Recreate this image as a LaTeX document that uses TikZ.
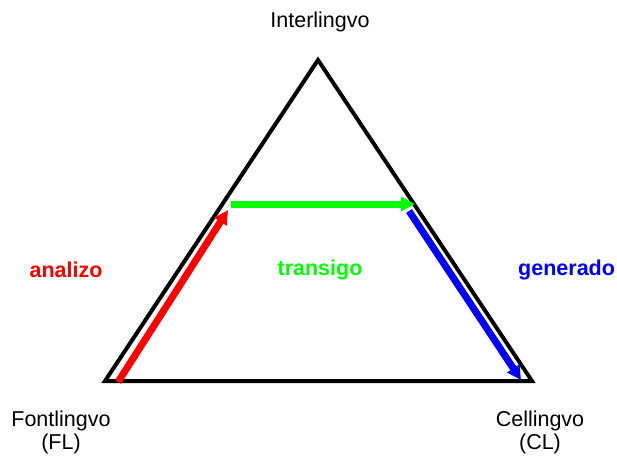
\documentclass[tikz,border=0pt]{standalone}
\usepackage{fontspec}
\setmainfont{Liberation Sans}
\usetikzlibrary{arrows.meta}
\tikzset{
  lbl/.style={font=\fontsize{21.5}{23}\selectfont, align=center, inner sep=0pt},
  act/.style={font=\fontsize{21.5}{23}\selectfont\bfseries, inner sep=0pt},
  side/.style={line width=4pt, line join=miter},
  flow/.style={line width=7pt, -{Triangle[length=14pt,width=14pt]}, shorten >=0pt},
}
\definecolor{fred}{RGB}{255,0,0}
\definecolor{fgreen}{RGB}{0,255,0}
\definecolor{fblue}{RGB}{0,0,255}
\begin{document}
\begin{tikzpicture}[x=1pt,y=-1pt]
\useasboundingbox (0,0) rectangle (617,455);
\coordinate (top) at (318,60);
\coordinate (bl) at (105,381);
\coordinate (br) at (532,381);
\draw[side] (top) -- (bl) -- (br) -- cycle;
\node[lbl] (inter) at (320,22) {Interlingvo};
\node[lbl] (font) at (61,432) {Fontlingvo\\(FL)};
\node[lbl] (cel) at (540,432) {Cellingvo\\(CL)};
\node[act, text=fred] (ana) at (66,270) {analizo};
\node[act, text=fgreen] (tra) at (320,270) {transigo};
\node[act, text=fblue, anchor=west] (gen) at (518,270) {generado};
\coordinate (r1) at (118,382);
\coordinate (r2) at (228,210);
\coordinate (g1) at (231,204);
\coordinate (g2) at (415,204);
\coordinate (b1) at (409,211);
\coordinate (b2) at (521,380);
\draw[flow, fred] (r1) -- (r2);
\draw[flow, fgreen] (g1) -- (g2);
\draw[flow, fblue] (b1) -- (b2);
\end{tikzpicture}
\end{document}
